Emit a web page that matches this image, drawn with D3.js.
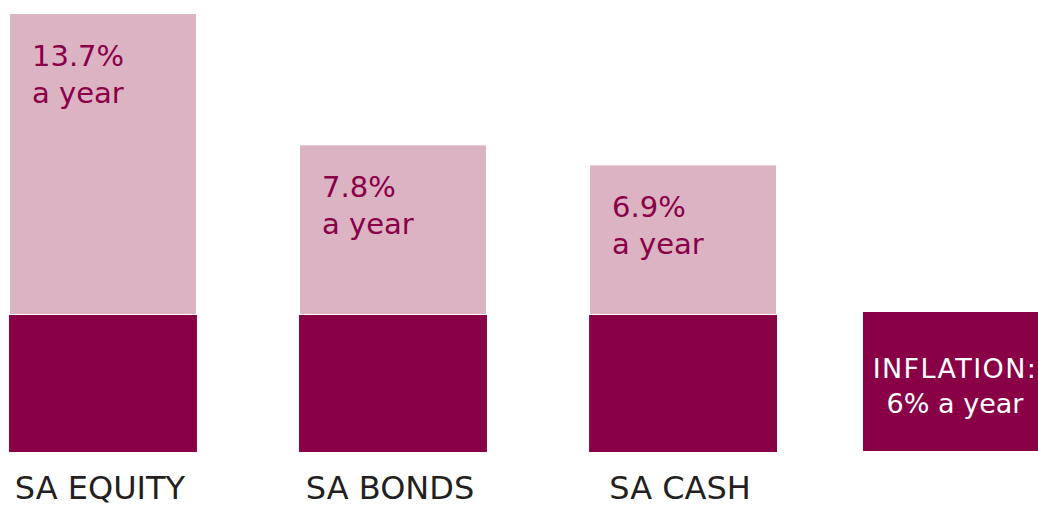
<!DOCTYPE html>
<html>
<head>
<meta charset="utf-8">
<script src="https://cdn.jsdelivr.net/npm/d3@7"></script>
<style>
  html, body { margin: 0; padding: 0; background: #fff; overflow: hidden; }
  svg { display: block; font-family: "DejaVu Sans", sans-serif; }
</style>
</head>
<body>
<div id="chart"></div>
<script>
// ======= DATA =======
const categories = ["SA EQUITY", "SA BONDS", "SA CASH"];
const returns = [13.7, 7.8, 6.9];       // % a year
const inflation = 6;                    // % a year
const inflationLabel = "INFLATION:";

// ======= SETUP =======
const width = 1038;
const height = 506;
const darkColor = "#8a0047";
const lightColor = "#dbb3c3";
const labelColor = "#231f20";

const svg = d3.select("#chart")
  .append("svg")
  .attr("width", width)
  .attr("height", height);

const x = d3.scaleBand()
  .domain(categories)
  .range([9, 777])
  .paddingInner(0.352)
  .paddingOuter(0);

// return bars grow up from the top of the inflation block
const y = d3.scaleLinear()
  .domain([0, d3.max(returns)])
  .range([319, 14]);
const lightBottom = 314;

// inflation block sits on the baseline
const yInfl = d3.scaleLinear()
  .domain([0, inflation])
  .range([452, 315]);

const rows = categories.map((c, i) => ({ cat: c, value: returns[i] }));

// light (nominal return) bars
svg.selectAll(".ret-bar")
  .data(rows)
  .enter()
  .append("rect")
  .attr("class", "ret-bar")
  .attr("x", d => x(d.cat) + 1)
  .attr("width", x.bandwidth() - 2)
  .attr("y", d => y(d.value))
  .attr("height", d => lightBottom - y(d.value))
  .attr("fill", lightColor);

// dark (inflation) part of each bar
svg.selectAll(".infl-bar")
  .data(rows)
  .enter()
  .append("rect")
  .attr("class", "infl-bar")
  .attr("x", d => x(d.cat))
  .attr("width", x.bandwidth())
  .attr("y", yInfl(inflation))
  .attr("height", yInfl(0) - yInfl(inflation))
  .attr("fill", darkColor);

// value labels inside the light bars
const valText = svg.selectAll(".val-label")
  .data(rows)
  .enter()
  .append("text")
  .attr("class", "val-label")
  .attr("x", d => x(d.cat) + 23)
  .attr("y", d => y(d.value) + 52)
  .attr("fill", darkColor)
  .style("font-size", "29px");

valText.append("tspan")
  .text(d => d.value + "%");
valText.append("tspan")
  .attr("x", d => x(d.cat) + 23)
  .attr("dy", 37)
  .text("a year");

// category labels
svg.selectAll(".cat-label")
  .data(rows)
  .enter()
  .append("text")
  .attr("class", "cat-label")
  .attr("x", d => x(d.cat) + x.bandwidth() / 2 - 3)
  .attr("y", 499)
  .attr("text-anchor", "middle")
  .attr("fill", labelColor)
  .style("font-size", "32px")
  .text(d => d.cat);

// inflation box on the right
const inflX = 863;
svg.append("rect")
  .attr("x", inflX)
  .attr("width", 200)
  .attr("y", yInfl(inflation) - 3)
  .attr("height", yInfl(0) - yInfl(inflation) + 2)
  .attr("fill", darkColor);

const inflText = svg.append("text")
  .attr("x", inflX + 92)
  .attr("y", 378)
  .attr("text-anchor", "middle")
  .attr("fill", "#fff")
  .style("font-size", "27px");

inflText.append("tspan")
  .style("letter-spacing", "1.4px")
  .text(inflationLabel);
inflText.append("tspan")
  .attr("x", inflX + 92)
  .attr("dy", 35)
  .text(inflation + "% a year");
</script>
</body>
</html>
